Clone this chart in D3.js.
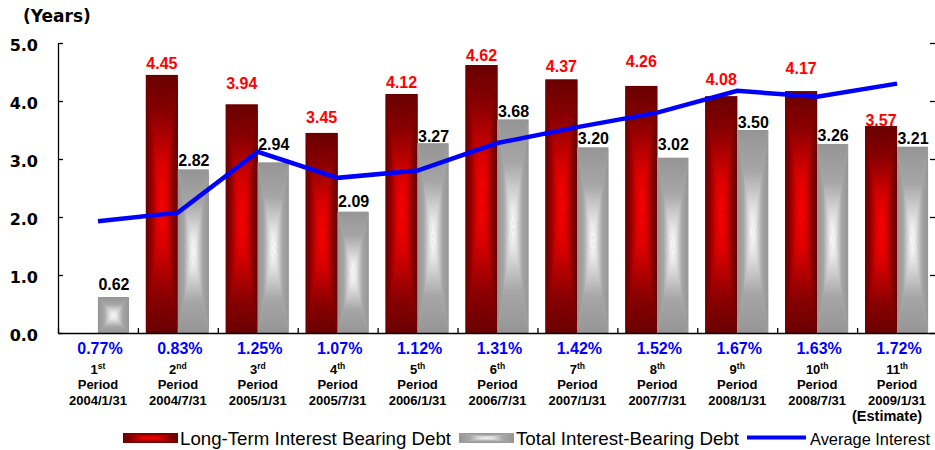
<!DOCTYPE html>
<html>
<head>
<meta charset="utf-8">
<script src="https://cdn.jsdelivr.net/npm/d3@7"></script>
<style>
  html, body { margin: 0; padding: 0; background: #fff; overflow: hidden; }
  svg { display: block; }
</style>
</head>
<body>
<svg id="chart" width="935" height="450"></svg>
<script>
// ---- data ----
const periodNumbers  = ["1", "2", "3", "4", "5", "6", "7", "8", "9", "10", "11"];
const periodSuffixes = ["st", "nd", "rd", "th", "th", "th", "th", "th", "th", "th", "th"];
const periodDates    = ["2004/1/31", "2004/7/31", "2005/1/31", "2005/7/31", "2006/1/31", "2006/7/31",
                        "2007/1/31", "2007/7/31", "2008/1/31", "2008/7/31", "2009/1/31"];
const longTermDebt   = [null, 4.45, 3.94, 3.45, 4.12, 4.62, 4.37, 4.26, 4.08, 4.17, 3.57];   // years
const totalDebt      = [0.62, 2.82, 2.94, 2.09, 3.27, 3.68, 3.20, 3.02, 3.50, 3.26, 3.21];   // years
const averageInterest = [0.77, 0.83, 1.25, 1.07, 1.12, 1.31, 1.42, 1.52, 1.67, 1.63, 1.72]; // percent
const yearTicks = [0, 1, 2, 3, 4, 5];
const rateTicks = [0, 0.4, 0.8, 1.2, 1.6, 2.0];
const seriesNames = ["Long-Term Interest Bearing Debt", "Total Interest-Bearing Debt", "Average Interest"];
const estimateNote = "(Estimate)";

// value labels are lifted by hand so they stay clear of the rate line (pixels above the bar top)
const longLabelLift  = [0, 5.6, 15, 9.6, 5.7, 4, 7.8, 19, 11.4, 17, 0];
const totalLabelLift = [7, 3.4, 12.5, 5, 1.3, 2.3, 3.4, 8, 1.7, 3.2, 2.8];

// ---- layout ----
const plotLeft = 58, plotRight = 937, plotTop = 43, plotBottom = 333;
const n = periodNumbers.length;
const svg = d3.select("#chart");

const x = d3.scaleBand().domain(d3.range(n)).range([plotLeft, plotRight]);
const xEdge = d3.scaleLinear().domain([0, n]).range([plotLeft, plotRight]);
const y = d3.scaleLinear().domain([0, 5]).range([plotBottom, plotTop]);
const yRate = d3.scaleLinear().domain([0, 2]).range([plotBottom, plotTop]);
const center = i => x(i) + x.bandwidth() / 2;
const barW = 32;

// ---- rectangular "from centre" shading built from four linear gradients ----
const defs = svg.append("defs");
function makeShade(id, stops) {
  const dirs = {
    top:    { x1: 0, y1: 0, x2: 0, y2: 1 },
    bottom: { x1: 0, y1: 1, x2: 0, y2: 0 },
    left:   { x1: 0, y1: 0, x2: 1, y2: 0 },
    right:  { x1: 1, y1: 0, x2: 0, y2: 0 }
  };
  Object.entries(dirs).forEach(([k, d]) => {
    const g = defs.append("linearGradient").attr("id", `${id}-${k}`)
      .attr("x1", d.x1).attr("y1", d.y1).attr("x2", d.x2).attr("y2", d.y2);
    stops.forEach(s => g.append("stop").attr("offset", s[0]).attr("stop-color", s[1]));
  });
}
makeShade("red",  [[0, "#680000"], [0.3, "#8a0000"], [0.7, "#dc0000"], [1, "#ff0000"]]);
makeShade("gray", [[0, "#959595"], [0.4, "#a6a6a6"], [0.8, "#e6e6e6"], [1, "#ffffff"]]);

function shadedRect(g, x0, y0, w, h, id, base) {
  const cx = x0 + w / 2, cy = y0 + h / 2;
  const grp = g.append("g");
  grp.append("rect").attr("x", x0).attr("y", y0).attr("width", w).attr("height", h).attr("fill", base);
  const tris = [
    ["top",    [[x0, y0], [x0 + w, y0], [cx, cy]]],
    ["bottom", [[x0, y0 + h], [x0 + w, y0 + h], [cx, cy]]],
    ["left",   [[x0, y0], [x0, y0 + h], [cx, cy]]],
    ["right",  [[x0 + w, y0], [x0 + w, y0 + h], [cx, cy]]]
  ];
  tris.forEach(([k, pts]) => {
    grp.append("polygon").attr("points", pts.map(p => p.join(",")).join(" "))
      .attr("fill", `url(#${id}-${k})`);
  });
}

// ---- bars ----
const barLayer = svg.append("g");
longTermDebt.forEach((v, i) => {
  if (v == null) return;
  shadedRect(barLayer, center(i) - barW, y(v), barW, y(0) - y(v) + 1, "red", "#a00000");
});
totalDebt.forEach((v, i) => {
  if (v == null) return;
  shadedRect(barLayer, center(i), y(v), barW - 1, y(0) - y(v) + 1, "gray", "#b8b8b8");
});

// ---- axes ----
const leftAxis = svg.append("g").attr("transform", `translate(${plotLeft},0)`)
  .call(d3.axisLeft(y).tickValues(yearTicks).tickSize(-5).tickSizeOuter(0).tickPadding(20)
        .tickFormat(d3.format(".1f")));
leftAxis.selectAll("text")
  .attr("font-family", "'DejaVu Sans', sans-serif").attr("font-weight", "bold")
  .attr("font-size", 16).attr("fill", "#000").attr("dy", "0.45em");

svg.append("g").attr("transform", `translate(${plotRight},0)`)
  .call(d3.axisRight(yRate).tickValues(rateTicks).tickSize(-7).tickSizeOuter(0).tickFormat(""));

svg.append("g").attr("transform", `translate(0,${plotBottom})`)
  .call(d3.axisBottom(xEdge).tickValues(d3.range(0, n + 1)).tickSize(-5).tickSizeOuter(0).tickFormat(""));

svg.selectAll(".domain, .tick line").attr("stroke", "#000").attr("stroke-width", 1.3);

svg.append("text").attr("x", 23).attr("y", 22)
  .attr("font-family", "'DejaVu Sans', sans-serif").attr("font-weight", "bold")
  .attr("font-size", 17).text("(Years)");

// ---- average interest line ----
const line = d3.line().x((d, i) => center(i)).y(d => yRate(d));
svg.append("path").datum(averageInterest)
  .attr("d", line).attr("fill", "none").attr("stroke", "#0000ff")
  .attr("stroke-width", 4.5).attr("stroke-linejoin", "miter");

// ---- value labels ----
const labelFont = "'Liberation Sans', Arial, sans-serif";
const labels = svg.append("g").attr("font-family", labelFont).attr("font-weight", "bold")
  .attr("font-size", 16).attr("text-anchor", "middle");
longTermDebt.forEach((v, i) => {
  if (v == null) return;
  labels.append("text").attr("x", center(i) - barW / 2).attr("y", y(v) - longLabelLift[i])
    .attr("fill", "#ff0000").text(v.toFixed(2));
});
totalDebt.forEach((v, i) => {
  labels.append("text").attr("x", center(i) + barW / 2).attr("y", y(v) - totalLabelLift[i])
    .attr("fill", "#000").text(v.toFixed(2));
});

// ---- category labels ----
const cats = svg.append("g").attr("font-family", labelFont).attr("font-weight", "bold")
  .attr("text-anchor", "middle");
averageInterest.forEach((v, i) => {
  cats.append("text").attr("x", center(i) + 2).attr("y", 354).attr("font-size", 16)
    .attr("fill", "#0000ff").text(v.toFixed(2) + "%");
  const ord = cats.append("text").attr("x", center(i)).attr("y", 374).attr("font-size", 13);
  ord.append("tspan").text(periodNumbers[i]);
  ord.append("tspan").attr("font-size", 8.5).attr("dy", -5.5).text(periodSuffixes[i]);
  cats.append("text").attr("x", center(i)).attr("y", 388.5).attr("font-size", 13).text("Period");
  cats.append("text").attr("x", center(i)).attr("y", 405).attr("font-size", 13).text(periodDates[i]);
});
cats.append("text").attr("x", center(n - 1) - 10).attr("y", 421).attr("font-size", 14.5).text(estimateNote);

// ---- legend ----
// each entry: swatch, then its name squeezed to a fixed run length
const legendTextLength = [271, 223, 120];
const legendFontSize = [18.5, 18.5, 16.5];
const legend = svg.append("g").attr("font-family", labelFont).attr("fill", "#000");
let lx = 123;
[["red", "#a00000"], ["gray", "#b8b8b8"], null].forEach((sw, k) => {
  if (sw) {
    shadedRect(legend, lx, 433, 55, 10, sw[0], sw[1]);
    lx += 57;
  } else {
    legend.append("line").attr("x1", lx).attr("x2", lx + 59).attr("y1", 437.5).attr("y2", 437.5)
      .attr("stroke", "#0000ff").attr("stroke-width", 4);
    lx += 63;
  }
  legend.append("text").attr("x", lx).attr("y", 444.5).attr("font-size", legendFontSize[k])
    .attr("textLength", legendTextLength[k]).attr("lengthAdjust", "spacingAndGlyphs")
    .text(seriesNames[k]);
  lx += legendTextLength[k] + 8;
});
</script>
</body>
</html>
